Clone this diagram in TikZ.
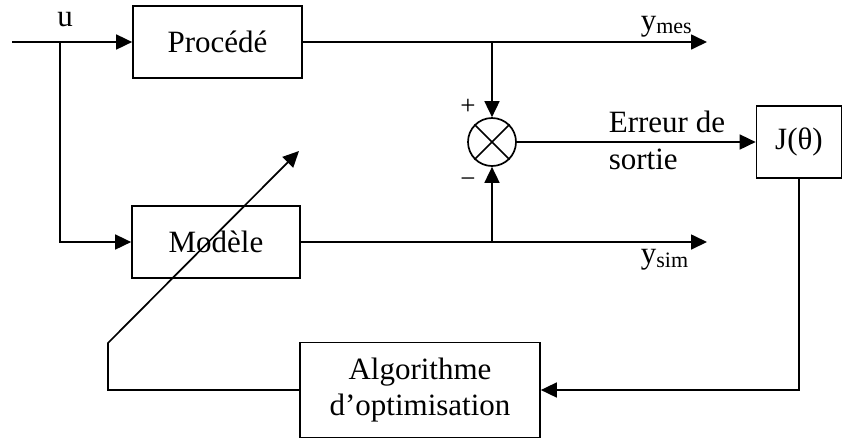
\documentclass[tikz,border=0pt]{standalone}
\usepackage{fontspec}
\setmainfont{Liberation Serif}
\usetikzlibrary{arrows.meta}

\begin{document}
\begin{tikzpicture}[x=1pt,y=-1pt,line width=1.7pt,
	>={Triangle[length=16pt,width=15pt]},
	bloc/.style={draw,inner sep=0pt,align=center,font=\fontsize{31}{36}\selectfont},
	txt/.style={inner sep=0pt,font=\fontsize{31}{37}\selectfont},
	signe/.style={inner sep=0pt,font=\fontsize{27}{28}\selectfont}]
		%%%%% START %%%%%
		\useasboundingbox (0,0) rectangle (842,440);
		
		\node[bloc,minimum width=169,minimum height=72] (proc) at (217.5,42) {Procédé};
		\node[bloc,minimum width=168,minimum height=72] (mod) at (216,242) {Modèle};
		\node[bloc,minimum width=240,minimum height=95] (algo) at (420,390) {Algorithme\\d’optimisation};
		\node[bloc,minimum width=85,minimum height=72] (J) at (799,142) {J(θ)};
		\node[draw,circle,minimum size=48,inner sep=0pt] (sum) at (492,142) {};
		\draw (sum.north west) -- (sum.south east);
		\draw (sum.south west) -- (sum.north east);
		
		\coordinate (in) at (12,42);
		\coordinate (br) at (60,42);
		\coordinate (ymes) at (707,42);
		\coordinate (ysim) at (707,242);
		\coordinate (b1) at (492,42);
		\coordinate (b2) at (492,242);
		\coordinate (k1) at (108,343);
		\coordinate (tip) at (299,151);
		
		\draw[->] (in) -- (proc.west);
		\draw[->] (br) |- (mod.west);
		\draw[->] (proc.east) -- (ymes);
		\draw[->] (mod.east) -- (ysim);
		\draw[->] (b1) -- (sum.north);
		\draw[->] (b2) -- (sum.south);
		\draw[->] (sum.east) -- (J.west);
		\draw[->] (J.south) |- (algo.east);
		\draw[->] (algo.west) -| (k1) -- (tip);
		
		\node[txt] (u) at (65,20) {u};
		\node[txt,anchor=base west] (lmes) at (640,30) {y\raisebox{-3pt}{\fontsize{22}{24}\selectfont mes}};
		\node[txt,anchor=base west] (lsim) at (640,263) {y\raisebox{-4pt}{\fontsize{22}{24}\selectfont sim}};
		\node[txt,anchor=north west,align=left] (err) at (608,110) {Erreur de\\sortie};
		\node[signe] (plus) at (468,107) {+};
		\node[signe] (moins) at (468,183) {−};
		%%%%% END %%%%%
	\end{tikzpicture}
\end{document}
